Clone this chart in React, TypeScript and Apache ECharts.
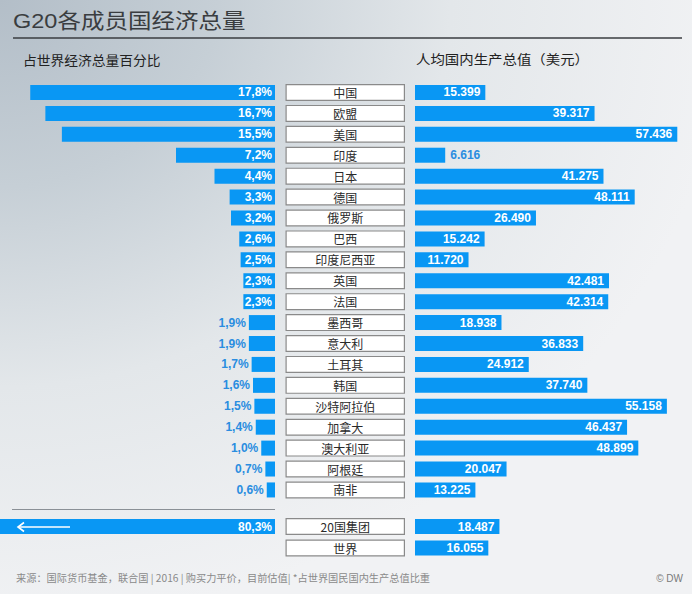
import React, { useEffect, useRef } from "react";
import * as echarts from "echarts";

const categories = ["中国", "欧盟", "美国", "印度", "日本", "德国", "俄罗斯", "巴西", "印度尼西亚", "英国", "法国", "墨西哥", "意大利", "土耳其", "韩国", "沙特阿拉伯", "加拿大", "澳大利亚", "阿根廷", "南非"];
const worldShare = [17.8, 16.7, 15.5, 7.2, 4.4, 3.3, 3.2, 2.6, 2.5, 2.3, 2.3, 1.9, 1.9, 1.7, 1.6, 1.5, 1.4, 1.0, 0.7, 0.6];
const gdpPerCapita = [15399, 39317, 57436, 6616, 41275, 48111, 26490, 15242, 11720, 42481, 42314, 18938, 36833, 24912, 37740, 55158, 46437, 48899, 20047, 13225];
const totalNames = ["20国集团", "世界"];
const totalShare: (number | null)[] = [80.3, null];
const totalGdp = [18487, 16055];

const TITLE = "G20各成员国经济总量";
const LEFT_HEADER = "占世界经济总量百分比";
const RIGHT_HEADER = "人均国内生产总值（美元）";
const FOOTER = "来源：国际货币基金，联合国 | 2016 | 购买力平价，目前估值| *占世界国民国内生产总值比重";
const CREDIT = "© DW";

const BLUE = "#0997f4";
const OUT_BLUE = "#2a8de0";
const LATIN = "'Liberation Sans', Arial, 'Noto Sans CJK SC', sans-serif";
const CJK = "'Noto Sans CJK SC', 'Liberation Sans', sans-serif";

const fmtPct = (v: number) => v.toFixed(1).replace(".", ",") + "%";
const fmtGdp = (v: number) => String(v).replace(/\B(?=(\d{3})+(?!\d))/g, ".");

const shareItem = (v: number | null) =>
  v == null
    ? null
    : {
        value: v,
        label:
          v >= 2
            ? { position: "insideRight", color: "#ffffff", distance: 3 }
            : { position: "left", color: OUT_BLUE, distance: 3 },
      };

const gdpItem = (v: number) => ({
  value: v,
  label:
    v >= 10000
      ? { position: "insideRight", color: "#ffffff", distance: 5 }
      : { position: "right", color: OUT_BLUE, distance: 5 },
});

export default function App() {
  const ref = useRef<HTMLDivElement>(null);
  useEffect(() => {
    document.body.style.margin = "0";
    if (!ref.current) return;
    const chart = echarts.init(ref.current, null, { renderer: "svg" });

    const mainTop = 82;
    const mainH = 418.4;
    const botTop = 515.75;
    const botH = 43;
    const grids = [
      { left: 0, width: 275, top: mainTop, height: mainH },
      { left: 285.5, width: 119.5, top: mainTop, height: mainH },
      { left: 415, width: 274, top: mainTop, height: mainH },
      { left: 0, width: 275, top: botTop, height: botH },
      { left: 285.5, width: 119.5, top: botTop, height: botH },
      { left: 415, width: 274, top: botTop, height: botH },
    ];
    const xMax = [20, 1, 60000, 20, 1, 60000];
    const xAxis = grids.map((_, i) => ({
      type: "value",
      gridIndex: i,
      min: 0,
      max: xMax[i],
      inverse: i % 3 === 0,
      show: false,
    }));
    const yAxis = grids.map((_, i) => ({
      type: "category",
      gridIndex: i,
      data: i < 3 ? categories : totalNames,
      inverse: true,
      show: false,
    }));

    const barLabel = {
      show: true,
      fontSize: 12,
      fontWeight: "bold",
      fontFamily: LATIN,
    };
    const boxStyle = { color: "#ffffff", borderColor: "#8a8a8a", borderWidth: 1.2 };
    const boxLabel = {
      show: true,
      position: "inside",
      color: "#2a2a2a",
      fontSize: 12,
      fontFamily: CJK,
      formatter: (p: any) => p.name,
    };

    const option: any = {
      animation: false,
      grid: grids.map((g) => ({ ...g, containLabel: false })),
      xAxis,
      yAxis,
      graphic: [
        {
          type: "rect",
          z: -10,
          silent: true,
          shape: { x: 0, y: 0, width: 692, height: 594 },
          style: {
            fill: new echarts.graphic.RadialGradient(0, 0, 1.05, [
              { offset: 0, color: "#b3bec8" },
              { offset: 0.3, color: "#c6cfd6" },
              { offset: 0.62, color: "#e3e7ea" },
              { offset: 1, color: "#f1f2f4" },
            ]),
          },
        },
        {
          type: "text",
          x: 13,
          y: 21,
          scaleX: 1.12,
          style: { text: TITLE, fontSize: 21, fontFamily: LATIN, fill: "#3a3d40", verticalAlign: "middle" },
        },
        {
          type: "line",
          shape: { x1: 13, y1: 38, x2: 682, y2: 38 },
          style: { stroke: "#3a3d40", lineWidth: 1.5 },
        },
        {
          type: "text",
          x: 23,
          y: 59,
          scaleX: 1.06,
          style: { text: LEFT_HEADER, fontSize: 13, fontFamily: CJK, fill: "#222222", verticalAlign: "middle" },
        },
        {
          type: "text",
          x: 416,
          y: 58,
          scaleX: 1.11,
          style: { text: RIGHT_HEADER, fontSize: 13, fontFamily: CJK, fill: "#222222", verticalAlign: "middle" },
        },
        {
          type: "line",
          shape: { x1: 12, y1: 509.5, x2: 275, y2: 509.5 },
          style: { stroke: "#8a9096", lineWidth: 1 },
        },
        {
          type: "line",
          z: 100,
          shape: { x1: 18, y1: 527, x2: 70, y2: 527 },
          style: { stroke: "#ffffff", lineWidth: 1.6 },
        },
        {
          type: "polyline",
          z: 100,
          shape: { points: [[24, 522.5], [18, 527], [24, 531.5]] },
          style: { stroke: "#ffffff", lineWidth: 1.6, fill: "none" },
        },
        {
          type: "text",
          x: 16,
          y: 578,
          scaleX: 1.02,
          style: { text: FOOTER, fontSize: 10, fontFamily: CJK, fill: "#8a8a8a", verticalAlign: "middle" },
        },
        {
          type: "text",
          x: 683,
          y: 578,
          style: { text: CREDIT, fontSize: 10, fontFamily: LATIN, fill: "#7a7a7a", align: "right", verticalAlign: "middle" },
        },
      ],
      series: [
        {
          type: "bar",
          xAxisIndex: 0,
          yAxisIndex: 0,
          barWidth: 15,
          itemStyle: { color: BLUE },
          label: { ...barLabel, formatter: (p: any) => fmtPct(p.value) },
          data: worldShare.map(shareItem),
        },
        {
          type: "bar",
          xAxisIndex: 1,
          yAxisIndex: 1,
          barWidth: 17,
          itemStyle: boxStyle,
          label: boxLabel,
          data: categories.map(() => 1),
        },
        {
          type: "bar",
          xAxisIndex: 2,
          yAxisIndex: 2,
          barWidth: 15,
          itemStyle: { color: BLUE },
          label: { ...barLabel, formatter: (p: any) => fmtGdp(p.value) },
          data: gdpPerCapita.map(gdpItem),
        },
        {
          type: "bar",
          xAxisIndex: 3,
          yAxisIndex: 3,
          barWidth: 15,
          clip: true,
          itemStyle: { color: BLUE },
          label: { ...barLabel, formatter: (p: any) => fmtPct(p.value) },
          data: totalShare.map(shareItem),
        },
        {
          type: "bar",
          xAxisIndex: 4,
          yAxisIndex: 4,
          barWidth: 17,
          itemStyle: boxStyle,
          label: boxLabel,
          data: totalNames.map(() => 1),
        },
        {
          type: "bar",
          xAxisIndex: 5,
          yAxisIndex: 5,
          barWidth: 15,
          itemStyle: { color: BLUE },
          label: { ...barLabel, formatter: (p: any) => fmtGdp(p.value) },
          data: totalGdp.map(gdpItem),
        },
      ],
    };
    chart.setOption(option);
    return () => chart.dispose();
  }, []);
  return <div ref={ref} style={{ width: 692, height: 594 }} />;
}
